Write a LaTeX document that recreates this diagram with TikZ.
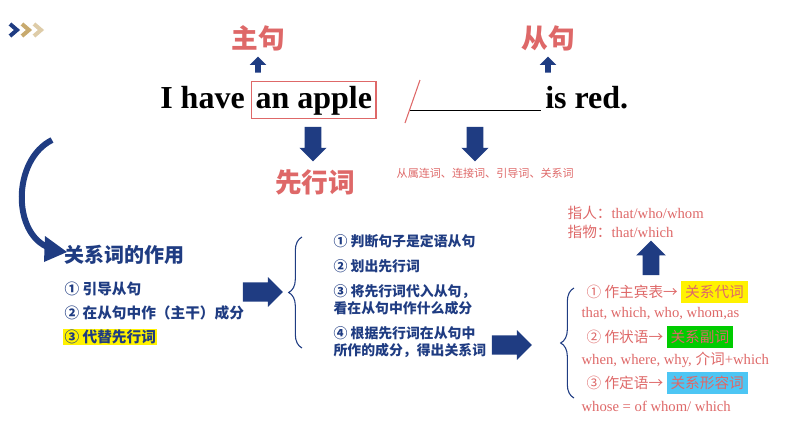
\documentclass[tikz,border=0pt]{standalone}
\usepackage{fontspec}
\setmainfont{Liberation Serif}
\newfontfamily\cjk{Noto Sans CJK SC}
\usetikzlibrary{shapes.arrows,decorations.pathreplacing,positioning}
\definecolor{pinkred}{RGB}{222,104,104}
\definecolor{navy}{RGB}{31,60,130}
\definecolor{gold}{RGB}{200,170,110}
\tikzset{
  fatarrow/.style={single arrow, fill=navy, draw=none, minimum height=#1, single arrow head extend=4pt, inner sep=5pt},
  fatarrow/.default=30pt,
  pinktitle/.style={text=pinkred, font=\cjk\bfseries\fontsize{20}{22}\selectfont},
  bluetxt/.style={text=navy, font=\cjk\bfseries\fontsize{11}{13}\selectfont, anchor=west, inner sep=1pt},
  steptxt/.style={bluetxt, font=\cjk\bfseries\fontsize{10.4}{12.5}\selectfont},
  pinktxt/.style={text=pinkred, font=\fontsize{11}{13}\selectfont, anchor=west, inner sep=1pt},
  bracestyle/.style={decorate, decoration={brace, amplitude=10pt}, thick, navy},
}
\begin{document}
\begin{tikzpicture}[x=0.75pt,y=-0.75pt]
  \useasboundingbox (0,0) rectangle (794,447);
  %CORNER CHEVRONS
  \draw[navy, line width=3pt] (10,24) -- (17,30) -- (10,36);
  \draw[gold, line width=3pt] (22,24) -- (29,30) -- (22,36);
  \draw[gold!60, line width=3pt] (34,24) -- (41,30) -- (34,36);
  %TITLES
  \node[pinktitle] (main) at (258,38) {主句};
  \node[pinktitle] (sub) at (548,38) {从句};
  \node[fatarrow=12pt, rotate=90, inner sep=2pt] (upa) at (258,66) {};
  \node[fatarrow=12pt, rotate=90, inner sep=2pt] (upb) at (548,66) {};
  %SENTENCE
  \node[font=\bfseries\fontsize{24}{26}\selectfont, anchor=base west, inner sep=0pt] (ihave) at (160,108) {I have};
  \node[font=\bfseries\fontsize{24}{26}\selectfont, anchor=base west, draw=pinkred, thick, inner sep=3pt] (apple) at (251,108) {an apple};
  \node[font=\bfseries\fontsize{24}{26}\selectfont, anchor=base west, inner sep=0pt] (blank) at (410,108) {\underline{\hspace{98pt}}};
  \node[font=\bfseries\fontsize{24}{26}\selectfont, anchor=base west, inner sep=0pt] (isred) at (545,108) {is red.};
  \coordinate (sla) at (405,123);
  \coordinate (slb) at (420,80);
  \draw[pinkred, thick] (sla) -- (slb);
  %DOWN ARROWS
  \node[fatarrow=26pt, rotate=-90, inner sep=6pt] (dna) at (313,140) {};
  \node[fatarrow=26pt, rotate=-90, inner sep=6pt] (dnb) at (475,140) {};
  \node[pinktitle] (ante) at (315,182) {先行词};
  \node[text=pinkred, font=\cjk\fontsize{8.3}{9}\selectfont, anchor=west] (kinds) at (392,173) {从属连词、连接词、引导词、关系词};
  %CURVED ARROW
  \coordinate (cva) at (52,140);
  \coordinate (cvb) at (62,252);
  \draw[navy, line width=4.5pt] (cva) .. controls (12,160) and (12,235) .. (50,248);
  \fill[navy] (45,236) -- (67,252) -- (44,262) -- cycle;
  %LEFT LIST
  \node[bluetxt, font=\cjk\bfseries\fontsize{15}{17}\selectfont] (role) at (63,255) {关系词的作用};
  \node[bluetxt] (r1) at (63,289) {① 引导从句};
  \node[bluetxt] (r2) at (63,313) {② 在从句中作（主干）成分};
  \node[bluetxt, fill=yellow] (r3) at (63,337) {③ 代替先行词};
  \node[fatarrow=30pt, inner sep=7pt] (ra) at (258,292) {};
  %BRACE ONE
  \coordinate (ba) at (302,348);
  \coordinate (bb) at (302,237);
  \draw[bracestyle] (ba) -- (bb);
  \node[steptxt] (s1) at (332,241) {① 判断句子是定语从句};
  \node[steptxt] (s2) at (332,266) {② 划出先行词};
  \node[steptxt, align=left] (s3) at (332,300) {③ 将先行词代入从句，\\看在从句中作什么成分};
  \node[steptxt, align=left] (s4) at (332,342) {④ 根据先行词在从句中\\所作的成分，得出关系词};
  \node[fatarrow=30pt, inner sep=7pt] (sa) at (507,345) {};
  %BRACE TWO
  \coordinate (bc) at (574,398);
  \coordinate (bd) at (574,288);
  \draw[bracestyle] (bc) -- (bd);
  \node[pinktxt] (t1) at (585,292) {\cjk ① 作主宾表→ \colorbox{yellow}{关系代词}};
  \node[pinktxt] (t1e) at (580,314) {that, which, who, whom,as};
  \node[pinktxt] (t2) at (585,337) {\cjk ② 作状语→ \colorbox{green!80!black}{关系副词}};
  \node[pinktxt] (t2e) at (580,360) {when, where, why, {\cjk 介词}+which};
  \node[pinktxt] (t3) at (585,383) {\cjk ③ 作定语→ \colorbox{cyan!70}{关系形容词}};
  \node[pinktxt] (t3e) at (580,406) {whose = of whom/ which};
  \node[fatarrow=26pt, rotate=90, single arrow head extend=5pt, inner sep=6pt] (ua) at (651,262) {};
  \node[pinktxt] (who) at (566,213) {{\cjk 指人：}that/who/whom};
  \node[pinktxt] (which) at (566,232) {{\cjk 指物：}that/which};
\end{tikzpicture}
\end{document}
